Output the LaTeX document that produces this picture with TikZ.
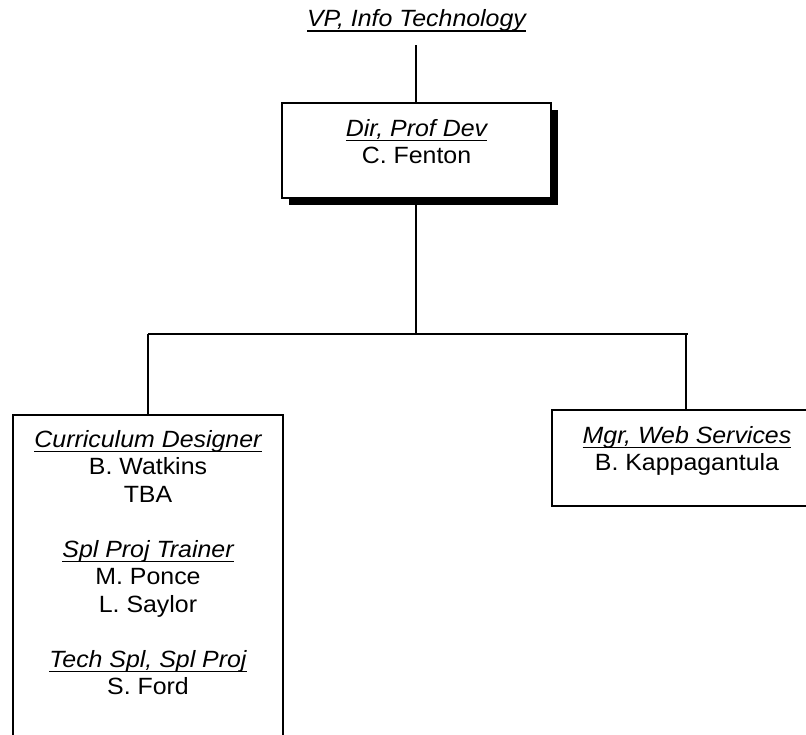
\documentclass[tikz,border=0pt]{standalone}
\usepackage{fontspec}
\setmainfont{Liberation Sans}[FakeStretch=1.06]
\usetikzlibrary{shadows}
\newcommand{\myul}[1]{\setbox0=\hbox{\itshape #1}\rlap{\rule[-4.7pt]{\wd0}{1.4pt}}\box0}
\tikzset{
  box/.style={draw=black, line width=1.6pt, fill=white, rectangle, inner sep=0pt},
  lbl/.style={anchor=base, inner sep=0pt, font=\fontsize{23.5}{27.5}\selectfont},
  link/.style={draw=black, line width=1.3pt},
}
\begin{document}
\begin{tikzpicture}[x=1pt,y=-1pt]
\useasboundingbox (0,0) rectangle (806,735);
\clip (0,0) rectangle (806,735);
\fill[white] (0,0) rectangle (806,735);

% top title
\node[lbl, inner ysep=13pt] (vp) at (416.5,27) {\myul{VP, Info Technology}};

% director box with shadow
\node[box, minimum width=269pt, minimum height=95pt,
      general shadow={fill=black, shadow xshift=7pt, shadow yshift=-7pt}] (dir) at (416.5,150.5) {};
\node[lbl] (dirt) at (416.5,136.7) {\myul{Dir, Prof Dev}};
\node[lbl] (dirn) at (416.5,163.3) {C. Fenton};

% left box
\node[box, minimum width=270pt, minimum height=400pt] (left) at (148,615) {};
\node[lbl] (l1) at (148,447.3) {\myul{Curriculum Designer}};
\node[lbl] (l2) at (148,474.8) {B. Watkins};
\node[lbl] (l3) at (148,502.3) {TBA};
\node[lbl] (l4) at (148,557.3) {\myul{Spl Proj Trainer}};
\node[lbl] (l5) at (148,584.8) {M. Ponce};
\node[lbl] (l6) at (148,612.3) {L. Saylor};
\node[lbl] (l7) at (148,667.3) {\myul{Tech Spl, Spl Proj}};
\node[lbl] (l8) at (148,694.8) {S. Ford};

% right box
\node[box, minimum width=268pt, minimum height=96pt] (right) at (686,458) {};
\node[lbl] (r1) at (687,443.3) {\myul{Mgr, Web Services}};
\node[lbl] (r2) at (687,470.3) {B. Kappagantula};

% connectors
\coordinate (jc) at (416,334);
\coordinate (jl) at (148,334);
\coordinate (jr) at (688,334);
\draw[link] (vp.south -| 416,0) -- (dir.north -| 416,0);
\draw[link] (dir.south -| 416,0) -- (jc);
\draw[link] (jl) -- (jr);
\draw[link] (jl) -- (left.north);
\draw[link] (right.north |- jl) -- (right.north);
\end{tikzpicture}
\end{document}
